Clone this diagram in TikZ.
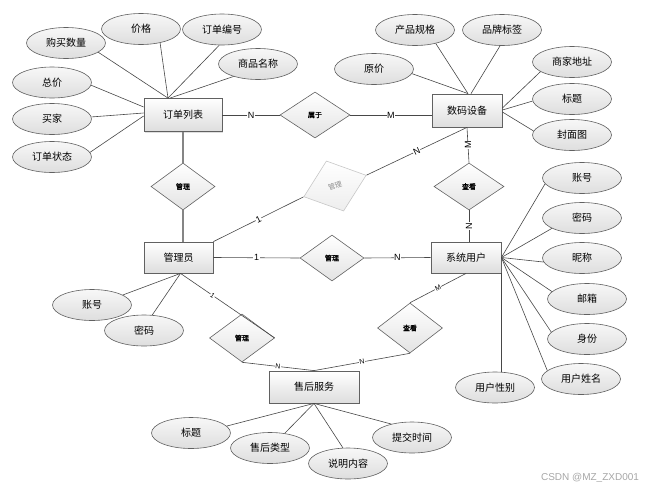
\documentclass[tikz,border=0pt]{standalone}
\usepackage{fontspec}
\setmainfont{Liberation Sans}
\newfontfamily\cjk{Noto Sans CJK SC}
\newfontfamily\cjkb{Noto Sans CJK SC}[FakeBold=1.5]
\usetikzlibrary{shapes.geometric,calc,shadows}
\begin{document}
\begin{tikzpicture}[x=1pt,y=-1pt,
  ent/.style={draw=black!62, line width=0.8pt, top color=white, bottom color=black!13,
    minimum width=70pt, minimum height=32pt, inner sep=0pt,
    font=\cjk\fontsize{10}{12}\selectfont,
    drop shadow={shadow xshift=1.2pt,shadow yshift=-1.2pt,opacity=0.25}},
  attr/.style={ellipse, draw=black!62, line width=0.6pt, top color=black!3, bottom color=black!13,
    minimum width=79pt, minimum height=31pt, inner sep=0pt,
    font=\cjk\fontsize{10}{12}\selectfont},
  rel/.style={diamond, draw=black!62, line width=0.6pt, top color=white, bottom color=black!11,
    minimum width=68pt, minimum height=46pt, inner sep=0pt,
    font=\cjkb\fontsize{7}{8}\selectfont},
  ghost/.style={diamond, draw=black!22, line width=0.6pt, top color=white, bottom color=black!7,
    text=black!45, inner sep=0pt, font=\cjk\fontsize{7}{8}\selectfont},
  ln/.style={draw=black!72, line width=0.6pt},
  thick ln/.style={draw=black!48, line width=1.4pt},
  card/.style={fill=white, inner sep=0.6pt, font=\fontsize{9}{10}\selectfont},
  smallcard/.style={fill=white, inner sep=0.4pt, font=\fontsize{7}{8}\selectfont},
]
\useasboundingbox (0,0) rectangle (648,490);

% entities
\node[ent, minimum width=78pt, minimum height=33pt] (ord) at (183,115) {订单列表};
\node[ent, minimum height=33pt] (dev) at (467,110.5) {数码设备};
\node[ent, minimum width=69pt, minimum height=31pt] (adm) at (178.5,257.5) {管理员};
\node[ent, minimum height=31pt] (usr) at (466,257.5) {系统用户};
\node[ent, minimum width=90pt] (svc) at (314,387) {售后服务};

% relations
\node[rel, minimum width=70pt] (r1) at (315,115) {属于};
\node[rel, minimum width=64pt, minimum height=47pt] (r2) at (183,186.5) {管理};
\node[ghost, rotate=19, minimum width=66pt, minimum height=53pt] (r3) at (335,186) {管理};
\node[rel, minimum width=70pt, minimum height=47pt] (r4) at (469,186.5) {查看};
\node[rel, minimum width=64pt, minimum height=46pt] (r5) at (332,258) {管理};
\node[rel, minimum width=65pt, minimum height=48pt] (r6) at (242,338) {管理};
\node[rel, minimum width=65pt, minimum height=50pt] (r7) at (410,328) {查看};

% attributes of 订单列表
\node[attr] (o1) at (66,43) {购买数量};
\node[attr] (o2) at (141,29) {价格};
\node[attr] (o3) at (222,29.5) {订单编号};
\node[attr] (o4) at (258,64) {商品名称};
\node[attr] (o5) at (52,82.5) {总价};
\node[attr] (o6) at (52,119) {买家};
\node[attr] (o7) at (52,157) {订单状态};

% attributes of 数码设备
\node[attr] (d1) at (415,30) {产品规格};
\node[attr] (d2) at (502,30) {品牌标签};
\node[attr] (d3) at (374,69) {原价};
\node[attr] (d4) at (572,62) {商家地址};
\node[attr] (d5) at (572,99) {标题};
\node[attr] (d6) at (572,135) {封面图};

% attributes of 系统用户
\node[attr] (u1) at (582,178) {账号};
\node[attr] (u2) at (582,218) {密码};
\node[attr] (u3) at (582,258) {昵称};
\node[attr] (u4) at (587,299) {邮箱};
\node[attr] (u5) at (587,339) {身份};
\node[attr] (u6) at (581,379) {用户姓名};
\node[attr] (u7) at (495,387.5) {用户性别};

% attributes of 管理员
\node[attr] (a1) at (92,305) {账号};
\node[attr] (a2) at (144,330.5) {密码};

% attributes of 售后服务
\node[attr] (s1) at (191,433) {标题};
\node[attr] (s2) at (270,448) {售后类型};
\node[attr] (s3) at (348,463.5) {说明内容};
\node[attr] (s4) at (412,437.5) {提交时间};

% attribute connectors
\coordinate (otop) at ($(ord.north)+(-15,0)$);
\draw[ln] (o1.-16) -- (otop);
\draw[ln] (o2.-36) -- (otop);
\draw[ln] (o3.-100) -- (otop);
\draw[ln] (o4.-153) -- ($(ord.north)+(-13,0)$);
\draw[ln] (o5.-4) -- ($(ord.west)+(0,-8)$);
\draw[ln] (o6.3) -- ($(ord.west)+(0,-2)$);
\draw[ln] (o7.7) -- ($(ord.west)+(0,1)$);

\coordinate (dtop) at ($(dev.north)+(1,0)$);
\draw[ln] (d3.-7) -- (dtop);
\draw[ln] (d1.-33) -- (dtop);
\draw[ln] (d2.-97) -- ($(dev.north)+(4,0)$);
\draw[ln] (d4.-163) -- ($(dev.east)+(0,-2.5)$);
\draw[ln] (d5.-177) -- ($(dev.east)+(0,-0.5)$);
\draw[ln] (d6.174) -- ($(dev.east)+(0,1.5)$);

\draw[ln] (u1.-171) -- (usr.east);
\draw[ln] (u2.-161) -- (usr.east);
\draw[ln] (u3.-174) -- (usr.east);
\draw[ln] (u4.168) -- (usr.east);
\draw[ln] (u5.169) -- (usr.east);
\draw[ln] (u6.166) -- (usr.east);
\draw[ln] (usr.south east) -- (usr.south east |- u7.north);

\coordinate (abot) at ($(adm.south)+(2,0)$);
\draw[ln] (a1.18) -- (abot);
\draw[ln] (a2.62) -- (abot);

\draw[ln] (s1.11) -- (svc.south);
\draw[ln] (s2.45) -- (svc.south);
\draw[ln] (s3.108) -- (svc.south);
\draw[ln] (s4.147) -- (svc.south);

% relation connectors
\draw[ln] (ord.east) -- node[card]{N} (r1.west);
\draw[ln] (r1.east) -- node[card]{M} (r1.east -| dev.west);
\draw[thick ln] (ord.south) -- (r2.north);
\draw[thick ln] (r2.south) -- (r2.south |- adm.north);
\draw[ln] (adm.north east) -- node[card, sloped]{1} (r3.west);
\draw[ln] (r3.east) -- node[card, sloped]{N} (dev.south);
\draw[ln] (dev.south) -- node[card, rotate=90]{M} (r4.north);
\draw[ln] (r4.south) -- node[card, rotate=90]{N} (r4.south |- usr.north);
\draw[ln] (adm.east) -- node[card]{1} (r5.west);
\draw[ln] (r5.east) -- node[card]{N} (usr.west);
\draw[ln] (abot) -- node[smallcard, sloped, pos=0.34]{1} (r6.east);
\draw[ln] (r6.south) -- node[smallcard, sloped]{N} (svc.north);
\draw[ln] (usr.south) -- node[smallcard, sloped]{M} (r7.north);
\draw[ln] (r7.south) -- node[smallcard, sloped]{N} (svc.north);

% watermark
\node[text=black!35, font=\fontsize{10}{12}\selectfont, inner sep=0pt] (wm) at (590,478) {CSDN @MZ\_ZXD001};
\end{tikzpicture}
\end{document}
